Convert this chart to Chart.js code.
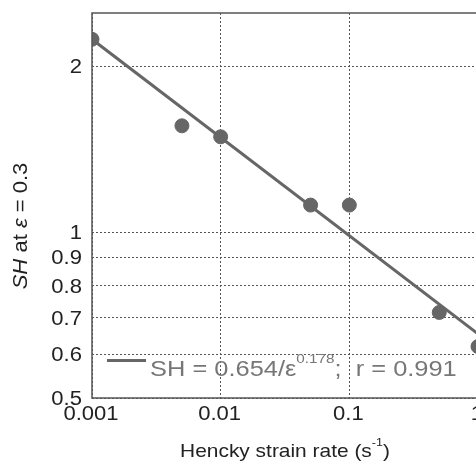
<!DOCTYPE html>
<html>
<head>
<meta charset="utf-8">
<script src="https://cdn.jsdelivr.net/npm/chart.js@4/dist/chart.umd.min.js"></script>
<style>
  html, body { margin: 0; padding: 0; background: #fff; overflow: hidden; }
  #box { width: 476px; height: 463px; overflow: hidden; }
</style>
</head>
<body>
<div id="box"><canvas id="grafico" width="500" height="463"></canvas></div>
<script>
// measured points: SH at strain 0.3 vs Hencky strain rate
const taxas = [0.001, 0.005, 0.01, 0.05, 0.1, 0.5, 1];
const valoresSH = [2.24, 1.56, 1.49, 1.12, 1.12, 0.715, 0.62];

// power-law fit SH = 0.654 / rate^0.178, end points
const taxasAjuste = [0.001, 1];
const valoresAjuste = [2.24, 0.654];

// ticks
const ticksX = [0.001, 0.01, 0.1, 1];
const rotulosX = ['0.001', '0.01', '0.1', '1'];
const ticksY = [0.5, 0.6, 0.7, 0.8, 0.9, 1, 2];
const rotulosY = ['0.5', '0.6', '0.7', '0.8', '0.9', '1', '2'];

const corMarca = '#666666';
const fonte = '"Liberation Sans", Arial, Helvetica, sans-serif';
const largura = 1.13; // text is set a little wide

// draws text pieces (italic / superscript), stretched horizontally
function desenharTrechos(ctx, trechos, x, y, tam, cor, alinhar) {
  const fontDe = t => (t.it ? 'italic ' : '') + (t.sup ? tam * 0.6 : tam) + 'px ' + fonte;
  const medir = t => { ctx.font = fontDe(t); return ctx.measureText(t.txt).width; };
  const total = trechos.reduce((s, t) => s + medir(t), 0);
  let px = alinhar === 'center' ? -total / 2 : alinhar === 'right' ? -total : 0;
  ctx.save();
  ctx.translate(x, y);
  ctx.scale(largura, 1);
  ctx.fillStyle = cor;
  ctx.textBaseline = 'alphabetic';
  ctx.textAlign = 'left';
  trechos.forEach(t => {
    ctx.font = fontDe(t);
    ctx.fillText(t.txt, px, t.sup ? -tam * 0.6 : 0);
    px += ctx.measureText(t.txt).width;
  });
  ctx.restore();
}

// frame, tick labels, axis titles and the in-plot legend
const extras = {
  id: 'extras',
  afterDraw(chart) {
    const ctx = chart.ctx;
    const a = chart.chartArea;
    const sx = chart.scales.x;
    const sy = chart.scales.y;
    ctx.save();
    ctx.strokeStyle = '#555';
    ctx.lineWidth = 1.5;
    ctx.setLineDash([]);
    ctx.strokeRect(a.left, a.top, a.right - a.left, a.bottom - a.top);

    // tick labels
    sy.ticks.forEach(t => {
      const txt = rotulosY[ticksY.indexOf(t.value)];
      if (txt) desenharTrechos(ctx, [{ txt }], 82, sy.getPixelForValue(t.value) + 7, 19.5, '#222', 'right');
    });
    sx.ticks.forEach(t => {
      const txt = rotulosX[ticksX.indexOf(t.value)];
      if (txt) desenharTrechos(ctx, [{ txt }], sx.getPixelForValue(t.value) - 1, 420, 19.5, '#222', 'center');
    });

    // legend for the fit line
    const ds = chart.data.datasets[1];
    ctx.strokeStyle = ds.borderColor;
    ctx.lineWidth = ds.borderWidth;
    ctx.beginPath();
    ctx.moveTo(107, 360.5);
    ctx.lineTo(146, 360.5);
    ctx.stroke();
    desenharTrechos(ctx, [
      { txt: 'SH = 0.654/\u03b5' },
      { txt: '0.178', sup: true },
      { txt: ';  r = 0.991' }
    ], 150, 376, 22.5, '#777', 'left');

    // x title
    desenharTrechos(ctx, [
      { txt: 'Hencky strain rate (s' },
      { txt: '-1', sup: true },
      { txt: ')' }
    ], 285, 457, 18.5, '#222', 'center');

    // y title, rotated
    ctx.translate(27, 226);
    ctx.rotate(-Math.PI / 2);
    desenharTrechos(ctx, [
      { txt: 'SH', it: true },
      { txt: ' at ' },
      { txt: '\u03b5', it: true },
      { txt: ' = 0.3' }
    ], 0, 0, 19.5, '#222', 'center');
    ctx.restore();
  }
};

const gradeComum = {
  color: '#555',
  lineWidth: 1,
  drawTicks: false
};

new Chart(document.getElementById('grafico'), {
  type: 'scatter',
  data: {
    datasets: [
      {
        label: 'SH',
        data: taxas.map((x, i) => ({ x: x, y: valoresSH[i] })),
        backgroundColor: corMarca,
        borderColor: corMarca,
        pointRadius: 7,
        pointHoverRadius: 7,
        order: 1
      },
      {
        label: 'ajuste',
        type: 'line',
        data: taxasAjuste.map((x, i) => ({ x: x, y: valoresAjuste[i] })),
        borderColor: corMarca,
        borderWidth: 3,
        pointRadius: 0,
        fill: false,
        order: 2
      }
    ]
  },
  options: {
    responsive: false,
    animation: false,
    layout: { padding: { top: 13, right: 22, left: 0, bottom: 0 } },
    plugins: { legend: { display: false }, tooltip: { enabled: false } },
    scales: {
      x: {
        type: 'logarithmic',
        min: 0.001,
        max: 1,
        afterBuildTicks: s => { s.ticks = ticksX.map(v => ({ value: v })); },
        afterFit: s => { s.height = 65; },
        ticks: { display: false, autoSkip: false },
        grid: gradeComum,
        border: { display: false, dash: [2, 2] }
      },
      y: {
        type: 'logarithmic',
        min: 0.5,
        max: 2.5,
        afterBuildTicks: s => { s.ticks = ticksY.map(v => ({ value: v })); },
        afterFit: s => { s.width = 92; },
        ticks: { display: false, autoSkip: false },
        grid: gradeComum,
        border: { display: false, dash: [2, 2] }
      }
    }
  },
  plugins: [extras]
});
</script>
</body>
</html>
